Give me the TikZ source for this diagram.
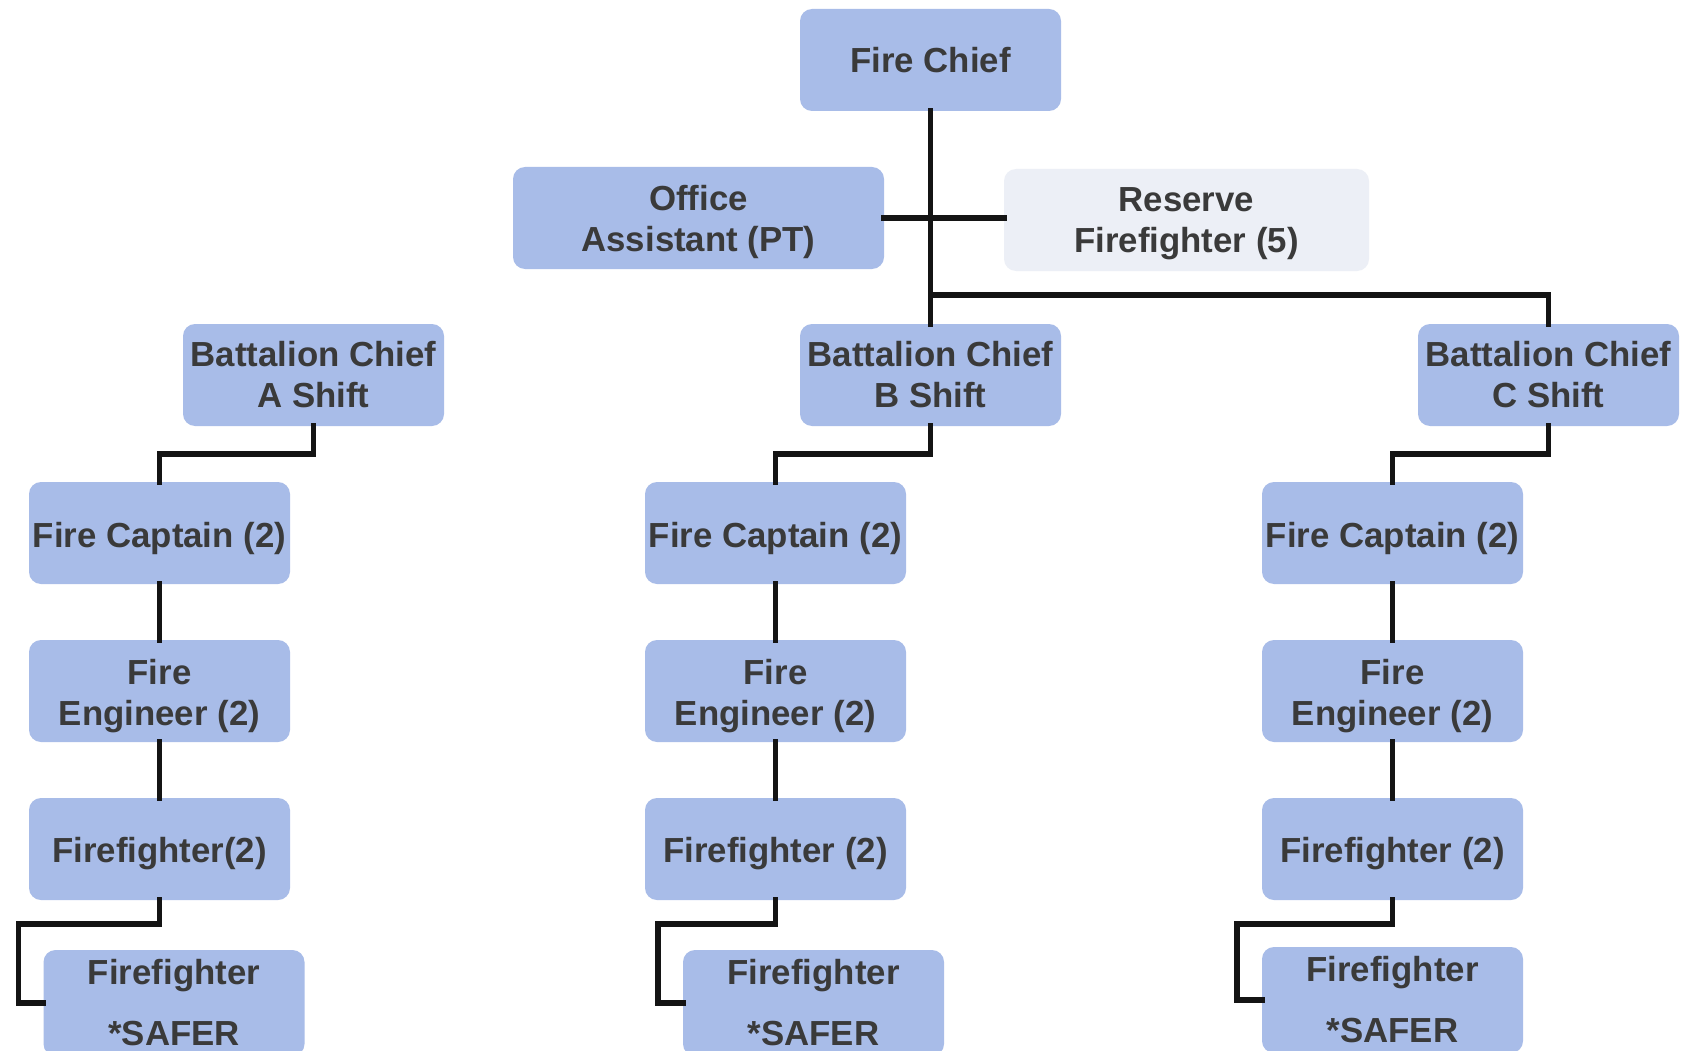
\documentclass[tikz,border=0pt]{standalone}
\usepackage{fontspec}
\setmainfont{Liberation Sans}
\usetikzlibrary{calc}
\definecolor{boxblue}{RGB}{168,188,232}
\definecolor{boxgrey}{RGB}{236,239,246}
\definecolor{txt}{RGB}{58,58,58}
\tikzset{
  boxtxt/.style={inner sep=0pt, align=center, text=txt, font=\fontsize{34.8}{41}\selectfont\bfseries},
  box/.style={boxtxt, draw=none, fill=boxblue, rounded corners=12pt, minimum width=261pt, minimum height=102pt},
  conn/.style={line width=5.5pt, draw=black!92, line cap=rect}
}
\begin{document}
\begin{tikzpicture}[x=1pt,y=-1pt]
\path[use as bounding box, clip] (0,0) rectangle (1684,1051);
\fill[white] (0,0) rectangle (1684,1051);
% nodes
\node[box] (chief) at (930.5,60) {Fire Chief};
\node[box, minimum width=371pt, label={[boxtxt,yshift=-4pt]center:{Office\\Assistant (PT)}}] (oa) at (698.5,218) {};
\node[box, minimum width=365pt, fill=boxgrey, label={[boxtxt,yshift=-4pt]center:{Reserve\\Firefighter (5)}}] (res) at (1186.5,220) {};
\node[box] (bcA) at (313.5,375) {Battalion Chief\\A Shift};
\node[box] (bcB) at (930.5,375) {Battalion Chief\\B Shift};
\node[box] (bcC) at (1548.5,375) {Battalion Chief\\C Shift};
\node[box, label={[boxtxt,yshift=-5pt]center:{Fire Captain (2)}}] (fcA) at (159.5,533) {};
\node[box, label={[boxtxt,yshift=-5pt]center:{Fire Captain (2)}}] (fcB) at (775.5,533) {};
\node[box, label={[boxtxt,yshift=-5pt]center:{Fire Captain (2)}}] (fcC) at (1392.5,533) {};
\node[box, label={[boxtxt,yshift=-5pt]center:{Fire\\Engineer (2)}}] (feA) at (159.5,691) {};
\node[box, label={[boxtxt,yshift=-5pt]center:{Fire\\Engineer (2)}}] (feB) at (775.5,691) {};
\node[box, label={[boxtxt,yshift=-5pt]center:{Fire\\Engineer (2)}}] (feC) at (1392.5,691) {};
\node[box, label={[boxtxt,yshift=-5pt]center:{Firefighter(2)}}] (ffA) at (159.5,849) {};
\node[box, label={[boxtxt,yshift=-5pt]center:{Firefighter (2)}}] (ffB) at (775.5,849) {};
\node[box, label={[boxtxt,yshift=-5pt]center:{Firefighter (2)}}] (ffC) at (1392.5,849) {};
\node[box, minimum height=106pt] (sfA) at (174,1003) {Firefighter\\[20pt]*SAFER};
\node[box, minimum height=106pt] (sfB) at (813.5,1003) {Firefighter\\[20pt]*SAFER};
\node[box, minimum height=106pt] (sfC) at (1392.5,1000) {Firefighter\\[20pt]*SAFER};
% connectors
\coordinate (jt) at (930.5,295);
\draw[conn] (chief.south) -- (bcB.north);
\draw[conn] (oa.east) -- (oa.east -| res.west);
\draw[conn] (jt) -| (bcC.north);
\foreach \s in {A,B,C}{
  \draw[conn] (bc\s.south) -- ++(0,28) -| (fc\s.north);
  \draw[conn] (fc\s.south) -- (fe\s.north);
  \draw[conn] (fe\s.south) -- (ff\s.north);
  \draw[conn] (ff\s.south) -- ++(0,24) -| ($(sf\s.west)+(-25,0)$) -- (sf\s.west);
}
\end{tikzpicture}
\end{document}
